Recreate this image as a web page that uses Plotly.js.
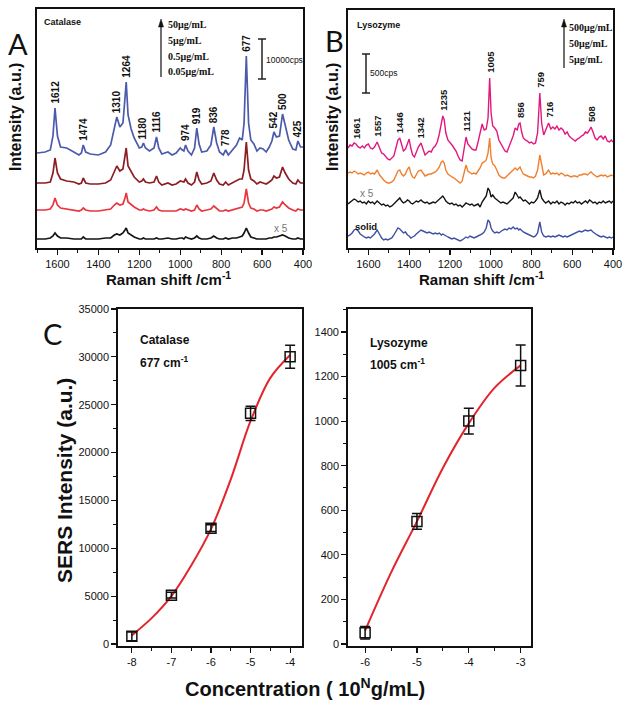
<!DOCTYPE html>
<html>
<head>
<meta charset="utf-8">
<script src="https://cdn.plot.ly/plotly-3.0.1.min.js"></script>
<style>
  html, body { margin: 0; padding: 0; background: #fff; }
  #chart { width: 631px; height: 708px; }
</style>
</head>
<body>
<div id="chart"></div>
<script>
// ---- Panel A: catalase spectra (arbitrary units, offset stacked) ----
const shiftA = [
  1700,1660,1635,1622,1612,1600,1585,1555,1520,1495,
  1483,1474,1462,1440,1400,1365,1340,1322,1310,1295,
  1280,1270,1264,1255,1240,1225,1200,1188,1180,1170,
  1150,1128,1116,1105,1090,1060,1040,1020,1000,990,
  982,974,962,945,930,919,908,895,870,850,
  836,822,808,790,778,765,745,725,710,697,
  688,677,666,655,640,625,610,595,580,565,
  552,542,530,515,500,487,470,450,435,425,
  412,400];
const cat50 = [
  95,96,98,112,140,112,101,100,96,93,
  95,103,96,94,93,96,103,118,131,121,
  125,150,166,133,119,110,100,101,105,100,
  97,100,111,100,94,96,93,95,100,98,
  97,103,97,93,100,120,104,96,97,103,
  121,105,96,93,98,93,98,103,110,108,
  125,192,125,108,104,97,100,99,96,101,
  107,116,111,112,134,122,108,99,98,107,
  101,101];
const cat5 = [
  65,65,66,75,90,75,69,67,66,64,
  65,70,65,64,64,65,68,77,82,77,
  79,92,100,82,76,71,66,67,69,66,
  65,66,72,66,63,65,63,64,67,66,
  66,69,65,63,66,76,68,64,65,67,
  75,68,64,63,66,63,65,67,69,69,
  78,106,78,69,67,64,66,65,64,66,
  68,72,70,71,81,75,69,65,64,68,
  65,65];
const cat05 = [
  38,38,39,43,50,43,40,39,38,37,
  38,40,38,37,37,38,39,43,45,43,
  44,50,55,46,43,41,38,38,39,38,
  37,38,41,38,37,37,37,37,39,38,
  38,39,38,37,38,43,39,37,38,39,
  42,39,37,37,38,37,38,39,40,41,
  45,59,45,40,39,37,38,38,37,38,
  39,41,40,41,46,43,40,38,37,39,
  38,38];
const cat005 = [
  9,9,10,12,15,12,10,10,9,9,
  9,11,9,9,9,10,10,13,14,13,
  15,18,20,15,13,11,9,9,10,9,
  9,9,10,9,9,10,9,9,10,10,
  9,11,10,9,10,12,10,9,9,10,
  12,10,9,9,10,9,10,10,11,12,
  15,20,15,11,10,9,9,9,9,10,
  10,11,11,12,13,12,10,9,9,10,
  9,9];
const peaksA = [1612,1474,1310,1264,1180,1116,974,919,836,778,677,542,500,425];

// ---- Panel B: lysozyme spectra ----
const shiftB = [
  1700,1690,1680,1670,1661,1650,1640,1630,1620,1610,
  1600,1590,1580,1570,1557,1545,1535,1525,1515,1505,
  1495,1485,1475,1465,1455,1446,1437,1428,1418,1408,
  1400,1392,1383,1374,1365,1355,1342,1332,1322,1312,
  1302,1292,1282,1272,1262,1252,1242,1235,1228,1220,
  1210,1200,1190,1180,1170,1160,1150,1140,1130,1121,
  1112,1102,1092,1082,1072,1062,1052,1042,1032,1022,
  1013,1005,998,990,980,970,960,950,940,930,
  920,910,900,890,880,870,862,856,848,840,
  830,820,810,800,790,780,770,759,750,740,
  730,716,705,695,685,675,665,655,645,635,
  625,615,605,595,585,575,565,555,545,535,
  525,515,508,498,488,478,468,458,448,438,
  428,418,408,400];
const lys500 = [
  100,103,102,105,104,101,100,102,100,103,
  104,100,99,101,106,100,95,94,91,89,
  88,90,92,100,108,110,104,97,99,106,
  109,100,93,91,96,101,105,99,93,95,
  97,96,100,102,106,114,126,132,128,115,
  108,106,103,100,97,92,88,87,100,111,
  104,101,99,98,98,106,115,124,118,119,
  130,170,135,122,120,117,108,104,100,97,
  96,101,107,112,120,118,124,125,116,110,
  108,107,105,106,104,105,115,155,125,113,
  118,125,119,121,119,122,118,120,118,114,
  116,112,110,108,107,109,110,112,113,116,
  115,118,121,116,110,108,111,112,109,112,
  107,106,108,106];
const lys50 = [
  75,76,75,77,76,74,75,74,73,75,
  76,74,75,74,78,73,70,68,66,65,
  65,66,68,72,77,78,74,72,74,79,
  81,75,71,70,74,77,78,75,72,73,
  74,74,75,76,78,81,86,87,85,78,
  74,72,71,70,68,66,65,67,76,83,
  77,75,74,75,74,77,80,85,86,88,
  95,110,90,84,82,78,73,71,70,70,
  72,74,76,78,80,78,80,81,77,74,
  73,72,71,71,70,72,78,93,82,73,
  74,78,74,75,74,75,73,75,74,72,
  73,72,71,72,72,71,73,73,74,74,
  73,75,76,74,72,71,72,73,72,73,
  71,72,73,72];
const lys5 = [
  44,46,47,49,48,46,47,45,46,44,
  47,45,46,44,47,45,43,44,42,43,
  41,42,44,46,49,50,47,45,46,48,
  47,45,44,46,47,46,48,46,45,46,
  44,45,46,45,47,49,51,52,50,47,
  45,44,45,43,44,42,43,41,43,45,
  44,43,44,42,43,44,41,46,49,52,
  60,57,51,53,50,48,47,45,46,45,
  44,46,48,50,56,52,50,51,49,47,
  48,46,44,46,45,47,50,58,50,47,
  45,47,44,46,45,47,44,46,45,43,
  45,44,46,45,47,45,46,44,46,47,
  45,48,47,45,46,44,46,45,47,45,
  46,47,45,47];
const lysSolid = [
  12,13,15,18,19,17,14,12,11,10,
  11,10,12,14,18,13,10,8,9,8,
  9,10,13,16,20,19,17,15,16,13,
  12,10,11,12,14,16,18,17,16,15,
  16,15,14,15,14,15,13,14,13,12,
  11,10,9,10,9,8,7,8,10,11,
  10,12,11,10,11,12,13,14,16,20,
  28,26,20,17,15,16,15,17,18,19,
  18,20,19,21,19,20,18,19,17,16,
  15,14,13,12,11,12,15,26,16,12,
  11,12,11,12,11,12,13,12,11,12,
  11,12,13,14,15,16,17,16,17,18,
  17,18,18,16,14,13,12,11,12,11,
  10,11,10,11];
const peaksB = [1661,1557,1446,1342,1235,1121,1005,856,759,716,508];

// ---- Panel C: calibration ----
const concCat = [-8, -7, -6, -5, -4];
const sersCat = [800, 5100, 12100, 24100, 30000];
const errCat = [450, 300, 350, 750, 1200];
const fitCatX = [-8, -7.5, -7, -6.5, -6, -5.5, -5, -4.5, -4];
const fitCatY = [900, 2700, 5000, 8200, 12000, 17200, 23300, 27800, 30200];

const concLys = [-6, -5, -4, -3];
const sersLys = [50, 550, 1000, 1250];
const errLys = [28, 35, 58, 92];
const fitLysX = [-6, -5.5, -5, -4.5, -4, -3.5, -3];
const fitLysY = [60, 320, 550, 790, 990, 1150, 1250];

const W = 631, H = 708;
const SANS = 'Liberation Sans, Arial, sans-serif';
const SERIF = 'Liberation Serif, Times New Roman, serif';
const INK = '#111';

function px(x) { return x / W; }
function py(y) { return 1 - y / H; }

function spec(x, y, color, xa, ya, w) {
  return { x: x, y: y, xaxis: xa, yaxis: ya, type: 'scatter', mode: 'lines',
    line: { color: color, width: w }, hoverinfo: 'skip' };
}

const traces = [
  spec(shiftA, cat50, '#4b5aab', 'x', 'y', 1.7),
  spec(shiftA, cat5, '#8c1d24', 'x', 'y', 1.7),
  spec(shiftA, cat05, '#e8353e', 'x', 'y', 1.7),
  spec(shiftA, cat005, '#151515', 'x', 'y', 1.7),
  spec(shiftB, lys500, '#e2187f', 'x2', 'y2', 1.4),
  spec(shiftB, lys50, '#f0802f', 'x2', 'y2', 1.4),
  spec(shiftB, lys5, '#151515', 'x2', 'y2', 1.4),
  spec(shiftB, lysSolid, '#3f50a5', 'x2', 'y2', 1.4),
  { x: fitCatX, y: fitCatY, xaxis: 'x3', yaxis: 'y3', mode: 'lines',
    line: { color: '#e3242b', width: 2, shape: 'spline', smoothing: 1 } },
  { x: concCat, y: sersCat, xaxis: 'x3', yaxis: 'y3', mode: 'markers',
    marker: { symbol: 'square-open', size: 10, color: INK, line: { width: 1.5 } },
    error_y: { type: 'data', array: errCat, color: INK, thickness: 1.5, width: 5 } },
  { x: fitLysX, y: fitLysY, xaxis: 'x4', yaxis: 'y4', mode: 'lines',
    line: { color: '#e3242b', width: 2, shape: 'spline', smoothing: 1 } },
  { x: concLys, y: sersLys, xaxis: 'x4', yaxis: 'y4', mode: 'markers',
    marker: { symbol: 'square-open', size: 10, color: INK, line: { width: 1.5 } },
    error_y: { type: 'data', array: errLys, color: INK, thickness: 1.5, width: 5 } }
];

function frame(extra) {
  return Object.assign({ showline: true, mirror: true, linewidth: 1.8, linecolor: INK,
    showgrid: false, zeroline: false, fixedrange: true }, extra);
}
function shiftAxis(domain, anchor) {
  return frame({ domain: domain, anchor: anchor, range: [1700, 400],
    ticks: 'outside', ticklen: 5, tickwidth: 1.2, tickcolor: INK, tick0: 0, dtick: 200,
    minor: { dtick: 100, ticks: 'outside', ticklen: 3, tickwidth: 1, tickcolor: INK },
    tickfont: { family: SANS, size: 11, color: INK } });
}
function blankY(domain, anchor, range) {
  return frame({ domain: domain, anchor: anchor, range: range, ticks: '', showticklabels: false });
}
function calAxis(domain, anchor, range, dtick, minorStep, extra) {
  return frame(Object.assign({ domain: domain, anchor: anchor, range: range,
    ticks: 'outside', ticklen: 5, tickwidth: 1.2, tickcolor: INK, dtick: dtick, tick0: 0,
    minor: { dtick: minorStep, ticks: 'outside', ticklen: 3, tickwidth: 1, tickcolor: INK },
    tickfont: { family: SANS, size: 11, color: INK } }, extra || {}));
}

// annotation helpers (paper coordinates given in page pixels)
function note(text, x, y, size, opts) {
  return Object.assign({ text: text, x: px(x), y: py(y), xref: 'paper', yref: 'paper',
    xanchor: 'center', yanchor: 'middle', showarrow: false,
    font: { family: SANS, size: size, color: INK } }, opts || {});
}
function peakLabels(peaks, xs, ys, xref, yref, size, gap) {
  return peaks.map(function (p) {
    return { text: '<b>' + p + '</b>', x: p, y: ys[xs.indexOf(p)] + gap, xref: xref, yref: yref,
      textangle: -90, xanchor: 'center', yanchor: 'bottom', showarrow: false,
      font: { family: SANS, size: size, color: INK } };
  });
}
const serifFont = { family: SERIF, size: 10, color: INK };
const letterFont = { family: 'Lato, sans-serif', size: 29, color: INK };

const annotations = []
  .concat(peakLabels(peaksA, shiftA, cat50, 'x', 'y', 10, 2))
  .concat(peakLabels(peaksB, shiftB, lys500, 'x2', 'y2', 9.5, 3))
  .concat([
    note('A', 18, 43, 29, { font: letterFont }),
    note('B', 334, 41, 29, { font: letterFont }),
    note('C', 52, 334, 29, { font: letterFont }),
    note('<b>Catalase</b>', 42, 22, 9, { xanchor: 'left' }),
    note('<b>Lysozyme</b>', 355, 25, 9, { xanchor: 'left' }),
    note('<b>50μg/mL</b>', 166, 25, 10, { xanchor: 'left', font: serifFont }),
    note('<b>5μg/mL</b>', 166, 41, 10, { xanchor: 'left', font: serifFont }),
    note('<b>0.5μg/mL</b>', 166, 56, 10, { xanchor: 'left', font: serifFont }),
    note('<b>0.05μg/mL</b>', 166, 71, 10, { xanchor: 'left', font: serifFont }),
    note('<b>500μg/mL</b>', 567, 27, 10, { xanchor: 'left', font: serifFont }),
    note('<b>50μg/mL</b>', 567, 43, 10, { xanchor: 'left', font: serifFont }),
    note('<b>5μg/mL</b>', 567, 59, 10, { xanchor: 'left', font: serifFont }),
    note('10000cps', 264, 60, 8.5, { xanchor: 'left' }),
    note('500cps', 368, 73, 8.5, { xanchor: 'left' }),
    note('x 5', 281, 228, 10, { font: { family: SANS, size: 10, color: '#777' } }),
    note('x 5', 367, 193, 10, { font: { family: SANS, size: 10, color: '#777' } }),
    note('<b>solid</b>', 366, 226, 9.5),
    note('<b>Intensity (a.u.)</b>', 15, 117, 16, { textangle: -90 }),
    note('<b>Intensity (a.u.)</b>', 332, 117, 16, { textangle: -90 }),
    note('<b>Raman shift /cm<sup>-1</sup></b>', 168, 278, 15),
    note('<b>Raman shift /cm<sup>-1</sup></b>', 481, 278, 15),
    note('<b>SERS Intensity (a.u.)</b>', 64, 481, 21, { textangle: -90 }),
    note('<b>Concentration ( 10<sup>N</sup>g/mL)</b>', 305, 687, 20),
    note('<b>Catalase</b>', 138, 340, 12, { xanchor: 'left' }),
    note('<b>677 cm<sup>-1</sup></b>', 138, 362, 12, { xanchor: 'left' }),
    note('<b>Lysozyme</b>', 368, 343, 12, { xanchor: 'left' }),
    note('<b>1005 cm<sup>-1</sup></b>', 368, 364, 12, { xanchor: 'left' })
  ]);

function seg(x0, y0, x1, y1, w) {
  return { type: 'line', xref: 'paper', yref: 'paper', x0: px(x0), y0: py(y0), x1: px(x1), y1: py(y1),
    line: { color: '#222', width: w || 1.5 } };
}
function arrowHead(x, y) {
  return { type: 'path', xref: 'paper', yref: 'paper', fillcolor: INK, line: { color: INK, width: 0.5 },
    path: 'M' + px(x) + ',' + py(y) + ' L' + px(x - 2.5) + ',' + py(y + 8) +
          ' L' + px(x + 2.5) + ',' + py(y + 8) + ' Z' };
}
const shapes = [
  seg(262, 39, 262, 79), seg(258, 39, 266, 39), seg(258, 79, 266, 79),
  seg(366, 54, 366, 93), seg(362, 54, 370, 54), seg(362, 93, 370, 93),
  seg(161, 25, 161, 77, 1.3), arrowHead(161, 19),
  seg(564, 25, 564, 68, 1.3), arrowHead(564, 19)
];

const layout = {
  width: W, height: H,
  margin: { l: 0, r: 0, t: 0, b: 0 },
  paper_bgcolor: '#fff', plot_bgcolor: '#fff',
  showlegend: false,
  font: { family: SANS, color: INK },
  xaxis: shiftAxis([px(37), px(303)], 'y'),
  yaxis: blankY([py(248), py(9)], 'x', [0, 239]),
  xaxis2: shiftAxis([px(348), px(613)], 'y2'),
  yaxis2: blankY([py(248), py(10)], 'x2', [0, 238]),
  xaxis3: calAxis([px(118), px(302)], 'y3', [-8.35, -3.7], 1, 0.5,
    { tickmode: 'array', tickvals: concCat, ticktext: concCat.map(String) }),
  yaxis3: calAxis([py(646), py(309)], 'x3', [-210, 35000], 5000, 2500, { tickformat: 'd' }),
  xaxis4: calAxis([px(348), px(531)], 'y4', [-6.33, -2.8], 1, 0.5,
    { tickmode: 'array', tickvals: concLys, ticktext: concLys.map(String) }),
  yaxis4: calAxis([py(646), py(309)], 'x4', [-9, 1503], 200, 100, { tickformat: 'd' }),
  annotations: annotations,
  shapes: shapes
};

Plotly.newPlot('chart', traces, layout, { staticPlot: true, displayModeBar: false });
</script>
</body>
</html>
